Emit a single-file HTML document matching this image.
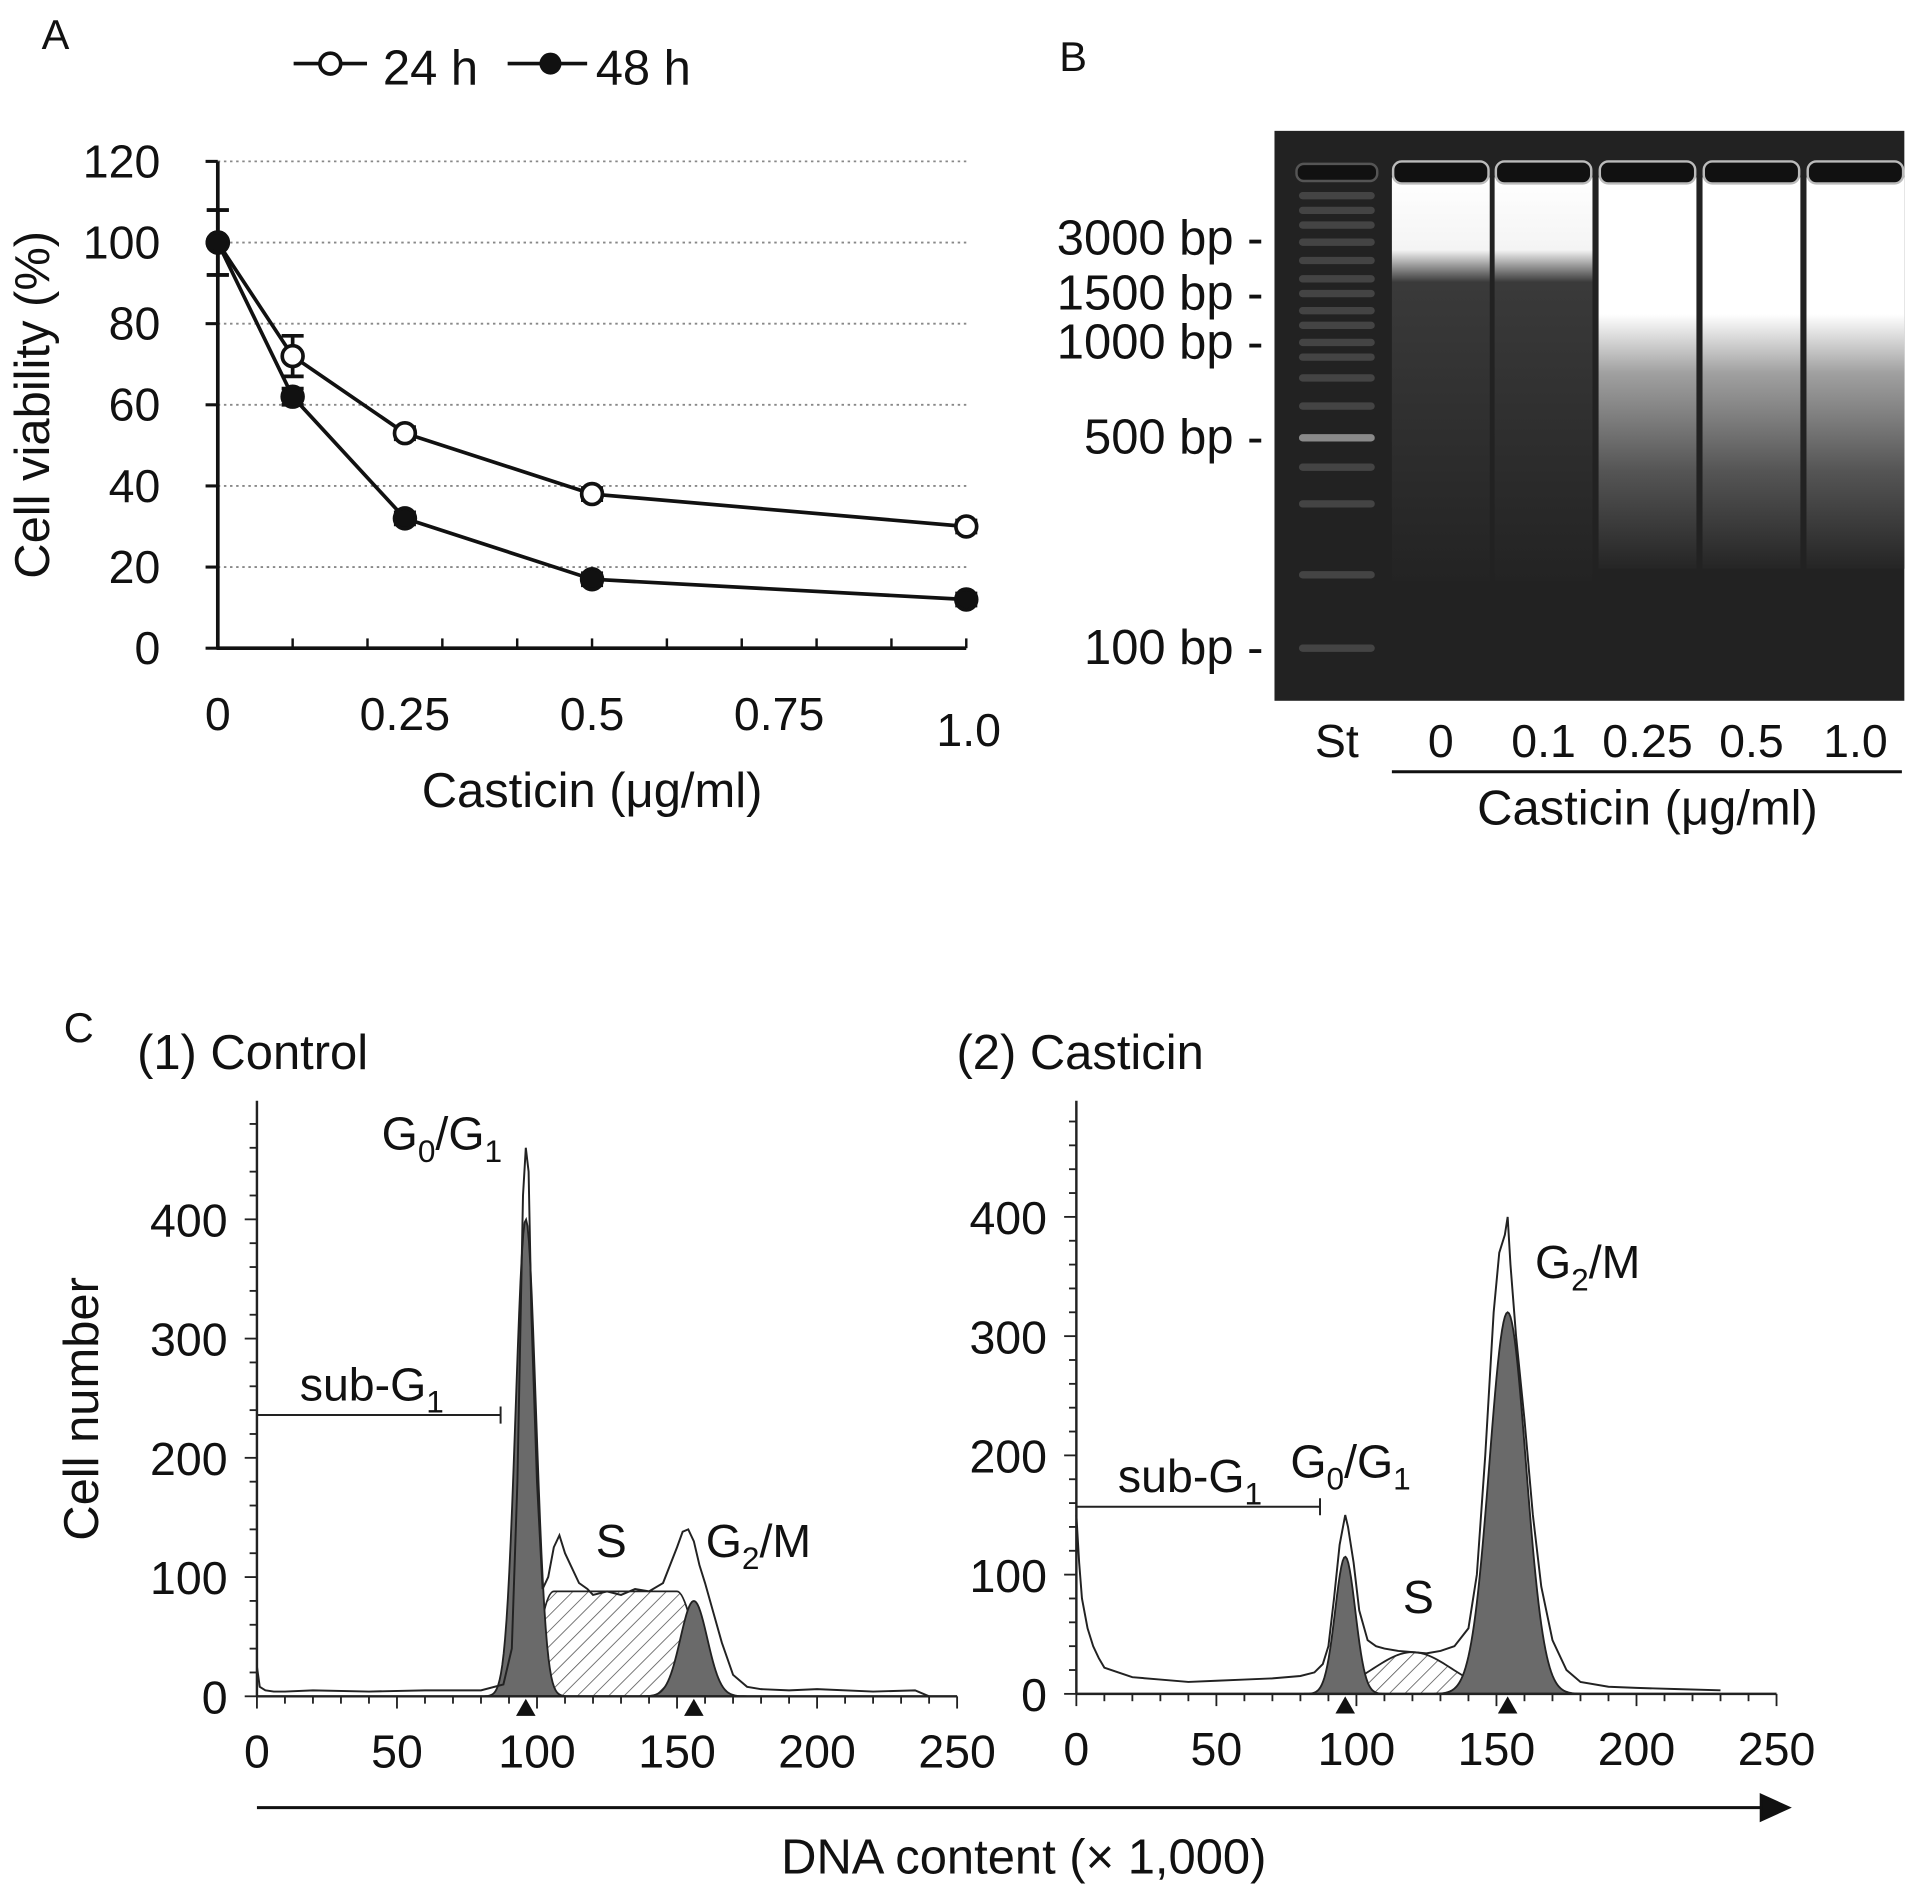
<!DOCTYPE html>
<html><head><meta charset="utf-8"><style>
html,body{margin:0;padding:0;background:#fff}
svg{display:block}
text{font-family:"Liberation Sans",Arial,sans-serif;fill:#111}
</style></head><body>
<svg id="fig" width="1913" height="1892" viewBox="0 0 1564 1547" xmlns="http://www.w3.org/2000/svg">
<defs>
<pattern id="hatch" patternUnits="userSpaceOnUse" width="9" height="9" patternTransform="rotate(45)">
<rect width="9" height="9" fill="#fff"/><line x1="0" y1="0" x2="0" y2="9" stroke="#555" stroke-width="1.3"/>
</pattern>
<linearGradient id="smearHi" x1="0" y1="0" x2="0" y2="1">
<stop offset="0" stop-color="#fff"/><stop offset="0.35" stop-color="#fff"/><stop offset="0.5" stop-color="#a0a0a0"/><stop offset="0.75" stop-color="#555"/><stop offset="1" stop-color="#252525"/>
</linearGradient>
<linearGradient id="smearLo" x1="0" y1="0" x2="0" y2="1">
<stop offset="0" stop-color="#fff"/><stop offset="0.18" stop-color="#f4f4f4"/><stop offset="0.26" stop-color="#3a3a3a"/><stop offset="1" stop-color="#232323"/>
</linearGradient>
</defs>
<g id="panelA"></g>
<g id="panelB"></g>
<g id="panelC"></g>
</svg>
<script>
// ---------- Panel A data ----------
const doses = [0, 0.1, 0.25, 0.5, 1.0];
const viab24 = [100, 72, 53, 38, 30];
const viab48 = [100, 62, 32, 17, 12];
const err24 = [8, 5, 1.5, 1.5, 1.5];
const err48 = [8, 2, 1.5, 1.5, 1.5];
const yTicksA = [0, 20, 40, 60, 80, 100, 120];
const xTicksA = [0, 0.25, 0.5, 0.75, 1.0];
const xTickLabelsA = ["0", "0.25", "0.5", "0.75", "1.0"];

// ---------- Panel B data ----------
const gelLanes = ["St", "0", "0.1", "0.25", "0.5", "1.0"];
const bpLabels = ["3000 bp -", "1500 bp -", "1000 bp -", "500 bp -", "100 bp -"];
const bpRows = [195, 240, 280, 358, 530];
const ladderRows = [160, 172, 184, 198, 213, 228, 240, 254, 266, 280, 292, 309, 332, 358, 382, 412, 470, 530];

// ---------- Panel C data ----------
const histTicksX = [0, 50, 100, 150, 200, 250];
const histTicksY = [0, 100, 200, 300, 400];
const ctrlX = [0,1,3,6,10,20,40,60,80,88,91,93,95,96,97,98,100,102,104,106,108,110,112,115,118,120,125,130,135,140,145,150,152,154,156,158,160,163,166,170,175,180,190,200,220,235,240];
const ctrlY = [25,8,5,4,4,5,4,5,5,10,40,180,420,460,440,320,180,90,100,125,135,120,110,95,90,85,88,85,90,88,95,125,138,140,130,110,95,70,45,18,8,6,5,6,4,5,0];
const ctrlFit = {g1:[400, 96, 3.6], s:[88, 106, 150], g2:[80, 156, 4.8]};
const castX = [0,1,2,4,6,8,10,15,20,30,40,50,60,70,80,85,88,90,92,94,96,97,99,101,104,107,110,115,120,125,130,135,140,143,146,149,151,153,154,155,157,160,163,166,170,175,180,190,200,215,230];
const castY = [150,110,80,55,40,30,22,18,14,12,10,11,12,13,15,18,25,40,80,125,150,140,110,70,45,40,38,36,35,34,36,40,55,100,200,320,370,385,400,360,300,230,150,90,45,20,10,6,5,4,3];
const castFit = {g1:[115, 96, 3.6], s:[35, 120, 14], g2:[320, 154, 6.5]};

const NS = "http://www.w3.org/2000/svg";
function mk(tag, attrs, parent, txt){
  const e = document.createElementNS(NS, tag);
  for (const k in attrs) e.setAttribute(k, attrs[k]);
  if (txt !== undefined) e.textContent = txt;
  parent.appendChild(e); return e;
}

// ================= Panel A =================
(function(){
  const g = document.getElementById('panelA');
  const xA = v => 178 + v * 612;
  const yA = v => 530 - v * 3.317;
  const t = mk('text', {x:34, y:40, 'font-size':34}, g, 'A');
  
  
  yTicksA.forEach(v => {
    if (v > 0) {
      const l = mk('line', {x1:178, x2:790, y1:yA(v), y2:yA(v), stroke:'#888', 'stroke-width':1.5, 'stroke-dasharray':'2 3'}, g);
      
      
    }
    const tk = mk('line', {x1:168, x2:178, y1:yA(v), y2:yA(v), stroke:'#111', 'stroke-width':2.5}, g);
    
    
    const lb = mk('text', {x:131, y:yA(v) + 13, 'font-size':38, 'text-anchor':'end'}, g, String(v));
    
    
  });
  const ya = mk('line', {x1:178, x2:178, y1:132, y2:531, stroke:'#111', 'stroke-width':3}, g);
  
  
  const xa = mk('line', {x1:177, x2:790, y1:530, y2:530, stroke:'#111', 'stroke-width':3}, g);
  
  
  [0,0.1,0.2,0.3,0.4,0.5,0.6,0.7,0.8,0.9,1.0].forEach(v => {
    const tk = mk('line', {x1:xA(v), x2:xA(v), y1:530, y2:522, stroke:'#111', 'stroke-width':2}, g);
    
    
  });
  xTicksA.forEach((v, i) => {
    const lb = mk('text', {x:xA(v) + (i === 4 ? 2 : 0), y:i === 4 ? 610 : 597, 'font-size':38, 'text-anchor':'middle'}, g, xTickLabelsA[i]);
    
    
  });
  const xt = mk('text', {x:484, y:660, 'font-size':40, 'text-anchor':'middle'}, g, 'Casticin (μg/ml)');
  
  
  const yt = mk('text', {x:0, y:0, 'font-size':40, 'text-anchor':'middle', transform:'translate(40,331) rotate(-90)'}, g, 'Cell viability (%)');
  
  

  function series(vals, errs, filled, name){
    const sg = mk('g', {}, g);
    
    
    const pts = doses.map((d,i) => xA(d) + ',' + yA(vals[i])).join(' ');
    mk('polyline', {points:pts, fill:'none', stroke:'#111', 'stroke-width':3}, sg);
    doses.forEach((d,i) => {
      const eb = mk('path', {d:`M${xA(d)},${yA(vals[i]+errs[i])}V${yA(vals[i]-errs[i])}M${xA(d)-9},${yA(vals[i]+errs[i])}h18M${xA(d)-9},${yA(vals[i]-errs[i])}h18`, stroke:'#111', 'stroke-width':3, fill:'none'}, sg);
      
      
      const c = mk('circle', {cx:xA(d), cy:yA(vals[i]), r:8.5, fill:filled ? '#111' : '#fff', stroke:'#111', 'stroke-width':3}, sg);
      
      
    });
  }
  series(viab24, err24, false, 'series-24h');
  series(viab48, err48, true, 'series-48h');
  const lg = mk('g', {}, g);
  
  
  mk('line', {x1:240, x2:300, y1:52, y2:52, stroke:'#111', 'stroke-width':3}, lg);
  mk('circle', {cx:270, cy:52, r:8.5, fill:'#fff', stroke:'#111', 'stroke-width':3}, lg);
  const l1 = mk('text', {x:313, y:69, 'font-size':40}, lg, '24 h');
  
  
  mk('line', {x1:415, x2:480, y1:52, y2:52, stroke:'#111', 'stroke-width':3}, lg);
  mk('circle', {cx:450, cy:52, r:9, fill:'#111'}, lg);
  const l2 = mk('text', {x:487, y:69, 'font-size':40}, lg, '48 h');
  
  
})();

// ================= Panel B =================
(function(){
  const g = document.getElementById('panelB');
  const t = mk('text', {x:866, y:58, 'font-size':34}, g, 'B');
  
  
  const gel = mk('rect', {x:1042, y:107, width:515, height:466, fill:'#222'}, g);
  
  
  const laneX = [1093, 1178, 1262, 1347, 1432, 1517];
  ladderRows.forEach(r => {
    const b = mk('rect', {x:1062, y:r - 3, width:62, height:6, rx:3, fill: r === 358 ? '#8a8a8a' : '#444'}, g);
    
    
  });
  mk('rect', {x:1060, y:134, width:66, height:14, rx:6, fill:'#111', stroke:'#555', 'stroke-width':2}, g);
  gelLanes.forEach((ln, i) => {
    if (i > 0) {
      const hi = i >= 3;
      const lg = mk('g', {}, g);
      
      
      mk('rect', {x:laneX[i] - 40, y:145, width:80, height: hi ? 320 : 330, fill: hi ? 'url(#smearHi)' : 'url(#smearLo)'}, lg);
      mk('rect', {x:laneX[i] - 39, y:132, width:78, height:18, rx:7, fill:'#111', stroke:'#bbb', 'stroke-width':2}, lg);
    }
    const lb = mk('text', {x:laneX[i], y:619, 'font-size':38, 'text-anchor':'middle'}, g, ln);
    
    
  });
  bpLabels.forEach((s, i) => {
    const lb = mk('text', {x:1033, y:bpRows[i] + 13, 'font-size':40, 'text-anchor':'end'}, g, s);
    
    
  });
  const ul = mk('line', {x1:1138, x2:1555, y1:631, y2:631, stroke:'#111', 'stroke-width':2.5}, g);
  
  
  const xt = mk('text', {x:1347, y:674, 'font-size':40, 'text-anchor':'middle'}, g, 'Casticin (μg/ml)');
  
  
})();

// ================= Panel C =================
(function(){
  const g = document.getElementById('panelC');
  const t = mk('text', {x:52, y:852, 'font-size':34}, g, 'C');
  
  
  const gauss = (a, m, s, x) => a * Math.exp(-0.5 * ((x - m) / s) ** 2);

  function hist(ox, y0, xs, ys, fit, isCtrl, name, title, subY){
    const hg = mk('g', {}, g);
    
    
    const X = v => ox + v * 2.29;
    const Y = v => y0 - v * 0.975;
    const tt = mk('text', {x:ox - 98, y:874, 'font-size':40}, hg, title);
    
    
    let sp = `M${X(isCtrl ? fit.s[1] - 8 : 95)},${Y(0)}`;
    if (isCtrl) {
      const [a, x1, x2] = fit.s;
      sp += `L${X(x1 - 8)},${Y(0)} Q${X(x1 - 4)},${Y(a)} ${X(x1)},${Y(a)} L${X(x2)},${Y(a)} Q${X(x2 + 4)},${Y(a)} ${X(x2 + 10)},${Y(0)}Z`;
    } else {
      for (let x = 95; x <= 150; x += 1) sp += `L${X(x)},${Y(gauss(fit.s[0], fit.s[1], fit.s[2], x))}`;
      sp += `L${X(150)},${Y(0)}Z`;
    }
    const s = mk('path', {d:sp, fill:'url(#hatch)', stroke:'#222', 'stroke-width':1.5}, hg);
    
    
    [['g1', 'g0-g1-fit'], ['g2', 'g2-m-fit']].forEach(([k, nm]) => {
      const [a, m, sd] = fit[k];
      let d = `M${X(m - 4 * sd)},${Y(0)}`;
      for (let x = m - 4 * sd; x <= m + 4 * sd; x += 0.5) d += `L${X(x)},${Y(gauss(a, m, sd, x))}`;
      d += 'Z';
      const p = mk('path', {d, fill:'#6a6a6a', stroke:'#222', 'stroke-width':1.5}, hg);
      
      
    });
    const pts = xs.map((x, i) => X(x) + ',' + Y(ys[i])).join(' ');
    const ol = mk('polyline', {points:pts, fill:'none', stroke:'#222', 'stroke-width':1.6}, hg);
    
    
    mk('line', {x1:X(0), x2:X(0), y1:900, y2:y0, stroke:'#222', 'stroke-width':2}, hg);
    mk('line', {x1:X(0), x2:X(250), y1:y0, y2:y0, stroke:'#222', 'stroke-width':2}, hg);
    for (let v = 0; v <= 500; v += 20) {
      const yy = Y(v); if (yy < 900) break;
      mk('line', {x1:X(0) - (v % 100 === 0 ? 10 : 6), x2:X(0), y1:yy, y2:yy, stroke:'#222', 'stroke-width':1.5}, hg);
    }
    for (let v = 0; v <= 250; v += 10) {
      mk('line', {x1:X(v), x2:X(v), y1:y0, y2:y0 + (v % 50 === 0 ? 10 : 6), stroke:'#222', 'stroke-width':1.5}, hg);
    }
    histTicksY.forEach(v => {
      const lb = mk('text', {x:X(0) - 24, y:Y(v) + 14, 'font-size':38, 'text-anchor':'end'}, hg, String(v));
      
      
    });
    histTicksX.forEach(v => {
      const lb = mk('text', {x:X(v), y:y0 + 58, 'font-size':38, 'text-anchor':'middle'}, hg, String(v));
      
      
    });
    [fit.g1[1], fit.g2[1]].forEach(m => {
      const tr = mk('path', {d:`M${X(m)},${y0 + 2}l-8,14h16z`, fill:'#111'}, hg);
      
      
    });
    const gx = X(87);
    const sg = mk('path', {d:`M${X(0)},${subY}H${gx}M${gx},${subY - 7}v14`, stroke:'#222', 'stroke-width':1.6, fill:'none'}, hg);
    
    
  }
  function sub(parent, x, y, main, sb, rest, size){
    const tx = mk('text', {x, y, 'font-size':size}, parent);
    
    
    tx.appendChild(document.createTextNode(main));
    mk('tspan', {dy:10, 'font-size':size * 0.68}, tx, sb);
    if (rest) { mk('tspan', {dy:-10}, tx, rest[0]); if (rest[1]) mk('tspan', {dy:10, 'font-size':size * 0.68}, tx, rest[1]); }
  }
  hist(210, 1387, ctrlX, ctrlY, ctrlFit, true, 'control-histogram', '(1) Control', 1157);
  hist(880, 1385, castX, castY, castFit, false, 'casticin-histogram', '(2) Casticin', 1232);
  const sz = 38;
  sub(g, 312, 940, 'G', '0', ['/G', '1'], sz);
  sub(g, 245, 1145, 'sub-G', '1', null, sz);
  const s1 = mk('text', {x:487, y:1273, 'font-size':sz}, g, 'S');
  
  
  sub(g, 577, 1273, 'G', '2', ['/M'], sz);
  sub(g, 1255, 1045, 'G', '2', ['/M'], sz);
  sub(g, 914, 1220, 'sub-G', '1', null, sz);
  sub(g, 1055, 1208, 'G', '0', ['/G', '1'], sz);
  const s2 = mk('text', {x:1147, y:1319, 'font-size':sz}, g, 'S');
  
  
  const yt = mk('text', {x:0, y:0, 'font-size':40, 'text-anchor':'middle', transform:'translate(80,1152) rotate(-90)'}, g, 'Cell number');
  
  
  const ar = mk('path', {d:'M210,1478H1440M1440,1468l22,10l-22,10z', stroke:'#111', 'stroke-width':2.5, fill:'#111'}, g);
  
  
  const xt = mk('text', {x:837, y:1532, 'font-size':40, 'text-anchor':'middle'}, g, 'DNA content (× 1,000)');
  
  
})();
</script>
</body></html>
